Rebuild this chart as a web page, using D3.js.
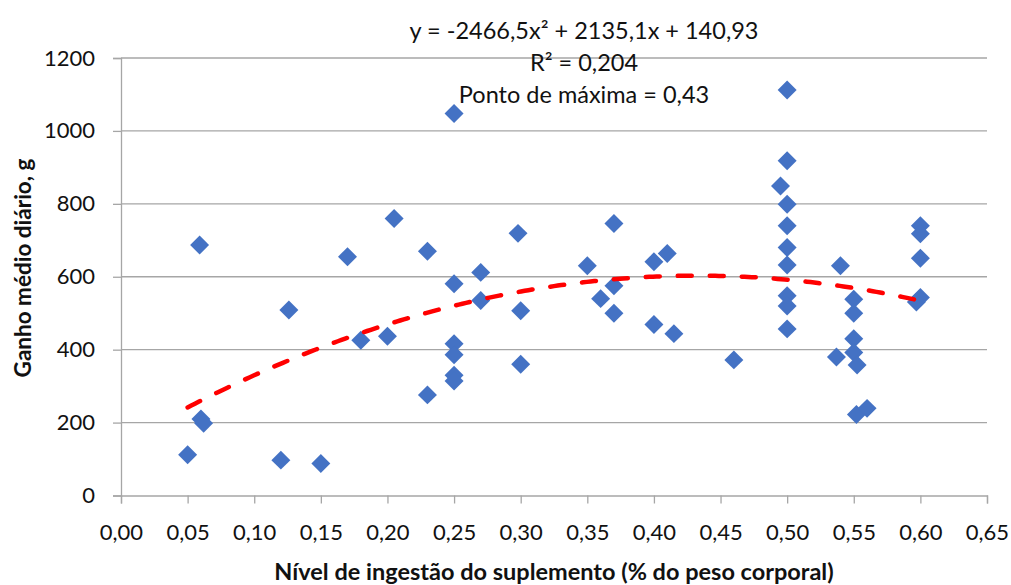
<!DOCTYPE html>
<html>
<head>
<meta charset="utf-8">
<script src="https://cdn.jsdelivr.net/npm/d3@7"></script>
<style>
  html, body { margin: 0; padding: 0; background: #ffffff; }
  svg { display: block; font-family: "Lato", "Open Sans", sans-serif; }
</style>
</head>
<body>
<svg id="chart" width="1011" height="585"></svg>
<script>
// Supplement intake level (% body weight)
const intake = [
  0.05, 0.059, 0.060, 0.062, 0.12, 0.126, 0.15, 0.17, 0.18, 0.20,
  0.205, 0.23, 0.23, 0.25, 0.25, 0.25, 0.25, 0.25, 0.25, 0.27,
  0.27, 0.298, 0.30, 0.30, 0.35, 0.36, 0.37, 0.37, 0.37, 0.40,
  0.40, 0.41, 0.415, 0.46, 0.495, 0.50, 0.50, 0.50, 0.50, 0.50,
  0.50, 0.50, 0.50, 0.50, 0.54, 0.537, 0.55, 0.55, 0.55, 0.55,
  0.5525, 0.552, 0.56, 0.60, 0.60, 0.60, 0.60, 0.597
];
// Average daily gain (g)
const gain = [
  112, 687, 210, 198, 97, 509, 88, 655, 426, 437,
  760, 670, 276, 1048, 581, 416, 386, 330, 314, 612,
  535, 719, 507, 360, 630, 540, 746, 575, 500, 641,
  469, 664, 444, 372, 849, 1112, 918, 799, 740, 680,
  632, 548, 520, 457, 630, 380, 538, 500, 430, 392,
  358, 222, 239, 740, 718, 651, 543, 531
];

// Quadratic fit coefficients and its x range
const coef = { a: -2466.5, b: 2135.1, c: 140.93 };
const fitRange = [0.05, 0.60];

const xTicks = [0, 0.05, 0.10, 0.15, 0.20, 0.25, 0.30, 0.35, 0.40, 0.45, 0.50, 0.55, 0.60, 0.65];
const yTicks = [0, 200, 400, 600, 800, 1000, 1200];

const annotations = [
  "y = -2466,5x\u00B2 + 2135,1x + 140,93",
  "R\u00B2 = 0,204",
  "Ponto de máxima = 0,43"
];
const xTitle = "Nível de ingestão do suplemento (% do peso corporal)";
const yTitle = "Ganho médio diário, g";

const svg = d3.select("#chart");
const plot = { left: 121, right: 987, top: 58, bottom: 495.5 };

const x = d3.scaleLinear().domain([0, 0.65]).range([plot.left, plot.right]);
const y = d3.scaleLinear().domain([0, 1200]).range([plot.bottom, plot.top]);

const gridColor = "#a6a6a6";
const textColor = "#111111";
const fmt = d => d3.format(".2f")(d).replace(".", ",");

// horizontal gridlines
svg.append("g")
  .selectAll("line")
  .data(yTicks.filter(t => t > 0))
  .join("line")
  .attr("x1", plot.left).attr("x2", plot.right)
  .attr("y1", d => y(d)).attr("y2", d => y(d))
  .attr("stroke", gridColor).attr("stroke-width", 1.3);

// y axis
const yAxis = svg.append("g")
  .attr("transform", `translate(${plot.left},0)`)
  .call(d3.axisLeft(y).tickValues(yTicks).tickSize(8).tickPadding(18).tickFormat(d3.format("d")));
yAxis.select(".domain").attr("stroke", gridColor).attr("stroke-width", 1.3);
yAxis.selectAll(".tick line").attr("stroke", gridColor).attr("stroke-width", 1.3);
yAxis.selectAll("text").attr("font-size", 22).attr("fill", textColor).attr("font-family", "Lato");

// x axis
const xAxis = svg.append("g")
  .attr("transform", `translate(0,${plot.bottom})`)
  .call(d3.axisBottom(x).tickValues(xTicks).tickSize(8).tickPadding(21).tickFormat(fmt));
xAxis.select(".domain").attr("stroke", gridColor).attr("stroke-width", 1.3);
xAxis.selectAll(".tick line").attr("stroke", gridColor).attr("stroke-width", 1.3);
xAxis.selectAll("text").attr("font-size", 22).attr("fill", textColor).attr("font-family", "Lato");

// data points as diamonds
const diamond = d3.symbol().type(d3.symbolSquare).size(180);
svg.append("g")
  .selectAll("path")
  .data(intake.map((v, i) => [v, gain[i]]))
  .join("path")
  .attr("d", diamond)
  .attr("transform", d => `translate(${x(d[0])},${y(d[1])}) rotate(45)`)
  .attr("fill", "#4472c4");

// fitted curve
const fitPts = d3.range(0, 201).map(i => {
  const xv = fitRange[0] + (fitRange[1] - fitRange[0]) * i / 200;
  return [xv, coef.a * xv * xv + coef.b * xv + coef.c];
});
svg.append("path")
  .datum(fitPts)
  .attr("d", d3.line().x(d => x(d[0])).y(d => y(d[1])))
  .attr("fill", "none")
  .attr("stroke", "#ff0000")
  .attr("stroke-width", 4.5)
  .attr("stroke-linecap", "round")
  .attr("stroke-dasharray", "14,18");

// equation annotation
svg.append("g")
  .selectAll("text")
  .data(annotations)
  .join("text")
  .attr("x", 584)
  .attr("y", (d, i) => 39 + i * 32)
  .attr("text-anchor", "middle")
  .attr("font-size", 23.5)
  .attr("fill", textColor)
  .text(d => d);

// axis titles
svg.append("text")
  .attr("x", 554).attr("y", 580)
  .attr("text-anchor", "middle")
  .attr("font-size", 23.5).attr("font-weight", "bold")
  .attr("fill", textColor)
  .text(xTitle);

svg.append("text")
  .attr("transform", "translate(31,268) rotate(-90)")
  .attr("text-anchor", "middle")
  .attr("font-size", 22.5).attr("font-weight", "bold")
  .attr("fill", textColor)
  .text(yTitle);
</script>
</body>
</html>
